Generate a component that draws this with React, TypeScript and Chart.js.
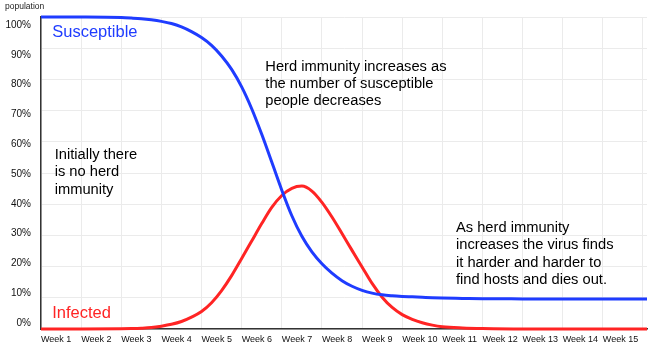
import React, { useEffect, useRef } from 'react';
import { Chart, registerables } from 'chart.js';

Chart.register(...registerables);

const FONT = "Arial, 'Liberation Sans', Helvetica, sans-serif";

const weekLabels = [
  'Week 1', 'Week 2', 'Week 3', 'Week 4', 'Week 5', 'Week 6', 'Week 7', 'Week 8',
  'Week 9', 'Week 10', 'Week 11', 'Week 12', 'Week 13', 'Week 14', 'Week 15',
];
const weekTicks = [0, 1, 2, 3, 4, 5, 6, 7, 8, 9, 10, 11, 12, 13, 14, 15];
const percentTicks = [0, 10, 20, 30, 40, 50, 60, 70, 80, 90, 100];

const samplePositions = [
  0, 1, 2, 2.25, 2.5, 2.75, 3, 3.25, 3.5, 3.75, 4, 4.25, 4.5, 4.75, 5, 5.25, 5.5, 5.75,
  6, 6.25, 6.5, 6.75, 7, 7.25, 7.5, 7.75, 8, 8.25, 8.5, 8.75, 9, 9.25, 9.5, 9.75, 10,
  10.5, 11, 12, 13, 14, 15.1,
];
const susceptible = [
  100, 99.97, 99.8, 99.65, 99.45, 99.1, 98.6, 97.9, 96.8, 95.3, 93.4, 90.9, 87.5, 83.2, 77.6, 70.6, 62.4, 53.5,
  44.5, 36.3, 29.7, 24.7, 20.9, 17.9, 15.5, 13.7, 12.4, 11.5, 10.95, 10.65, 10.45, 10.3, 10.15, 10.0, 9.9,
  9.8, 9.7, 9.65, 9.6, 9.6, 9.6,
];
const infected = [
  0, 0.02, 0.1, 0.15, 0.25, 0.45, 0.9, 1.5, 2.4, 3.8, 5.6, 8.4, 12.3, 17.1, 22.6, 28.2, 33.8, 39.0,
  42.8, 45.1, 45.8, 44.2, 40.6, 35.9, 30.6, 25.2, 19.9, 14.6, 10.2, 6.9, 4.6, 3.1, 2.0, 1.25, 0.75,
  0.35, 0.15, 0, 0, 0, 0,
];

const seriesNames = ['Susceptible', 'Infected'];
const axisTitle = 'population';
const herdNote = ['Herd immunity increases as', 'the number of susceptible', 'people decreases'];
const initialNote = ['Initially there', 'is no herd', 'immunity'];
const dieOutNote = ['As herd immunity', 'increases the virus finds', 'it harder and harder to', 'find hosts and dies out.'];

const BLUE = '#1f3cff';
const RED = '#ff2424';

const notesPlugin = {
  id: 'notes',
  afterDatasetsDraw(chart: any) {
    const ctx = chart.ctx;
    const xs = chart.scales.x;
    const ys = chart.scales.y;
    ctx.save();
    ctx.textBaseline = 'middle';
    ctx.textAlign = 'left';
    const block = (lines: string[], xv: number, yv: number, color: string, size: number, lh: number) => {
      ctx.fillStyle = color;
      ctx.font = `${size}px ${FONT}`;
      const px = xs.getPixelForValue(xv);
      const py = ys.getPixelForValue(yv);
      lines.forEach((l, i) => ctx.fillText(l, px, py + i * lh));
    };
    block(herdNote, 5.59, 84.1, '#000', 14.7, 17.2);
    block(initialNote, 0.34, 55.8, '#000', 14.7, 17.5);
    block(dieOutNote, 10.34, 32.3, '#000', 14.7, 17.2);
    block([seriesNames[0]], 0.28, 95.2, BLUE, 16.5, 0);
    block([seriesNames[1]], 0.28, 5.1, RED, 16.5, 0);
    ctx.fillStyle = '#222';
    ctx.font = `8.5px ${FONT}`;
    ctx.fillText(axisTitle, 5, 7);
    ctx.restore();
  },
};

export default function App() {
  const ref = useRef<HTMLCanvasElement>(null);
  useEffect(() => {
    if (!ref.current) return;
    const chart = new Chart(ref.current, {
      type: 'line',
      data: {
        datasets: [
          {
            label: seriesNames[0],
            data: samplePositions.map((x, i) => ({ x, y: susceptible[i] })),
            borderColor: BLUE,
            borderWidth: 3,
            pointRadius: 0,
            cubicInterpolationMode: 'monotone',
            clip: false as any,
          },
          {
            label: seriesNames[1],
            data: samplePositions.map((x, i) => ({ x, y: infected[i] })),
            borderColor: RED,
            borderWidth: 3,
            pointRadius: 0,
            cubicInterpolationMode: 'monotone',
            clip: false as any,
          },
        ],
      },
      options: {
        responsive: false,
        animation: false,
        devicePixelRatio: 1,
        layout: { padding: { top: 17, left: 0, right: 0, bottom: 0 } },
        plugins: { legend: { display: false }, tooltip: { enabled: false } },
        scales: {
          x: {
            type: 'linear',
            min: 0,
            max: 15.1,
            afterBuildTicks: (s: any) => { s.ticks = weekTicks.map((v) => ({ value: v })); },
            afterFit: (s: any) => { s.height = 22; },
            grid: { color: '#ebebeb', lineWidth: 1, drawTicks: false },
            border: { color: '#333', width: 1.5 },
            ticks: {
              callback: (v: any) => weekLabels[Math.round(Number(v))] ?? '',
              align: 'start',
              autoSkip: false,
              maxRotation: 0,
              minRotation: 0,
              padding: 5,
              color: '#111',
              font: { family: FONT, size: 9 },
            },
          },
          y: {
            type: 'linear',
            position: 'left',
            weight: 0,
            min: 0,
            max: 100,
            afterBuildTicks: (s: any) => { s.ticks = percentTicks.map((v) => ({ value: v })); },
            afterFit: (s: any) => { s.width = 0; },
            grid: { color: '#ebebeb', lineWidth: 1, drawTicks: false },
            border: { color: '#333', width: 1.5 },
            ticks: { display: false },
          },
          y2: {
            type: 'linear',
            position: 'left',
            weight: 1,
            min: -2.0,
            max: 102.7,
            afterBuildTicks: (s: any) => { s.ticks = percentTicks.map((v) => ({ value: v })); },
            afterFit: (s: any) => { s.width = 41; },
            grid: { display: false, drawTicks: false },
            border: { display: false },
            ticks: {
              callback: (v: any) => `${v}%`,
              padding: 10,
              color: '#111',
              font: { family: FONT, size: 10 },
            },
          },
        },
      } as any,
      plugins: [notesPlugin],
    });
    return () => chart.destroy();
  }, []);
  return (
    <div style={{ position: 'fixed', left: 0, top: 0, width: 648, height: 351, background: '#fff' }}>
      <canvas ref={ref} width={648} height={351} style={{ display: 'block' }} />
    </div>
  );
}
